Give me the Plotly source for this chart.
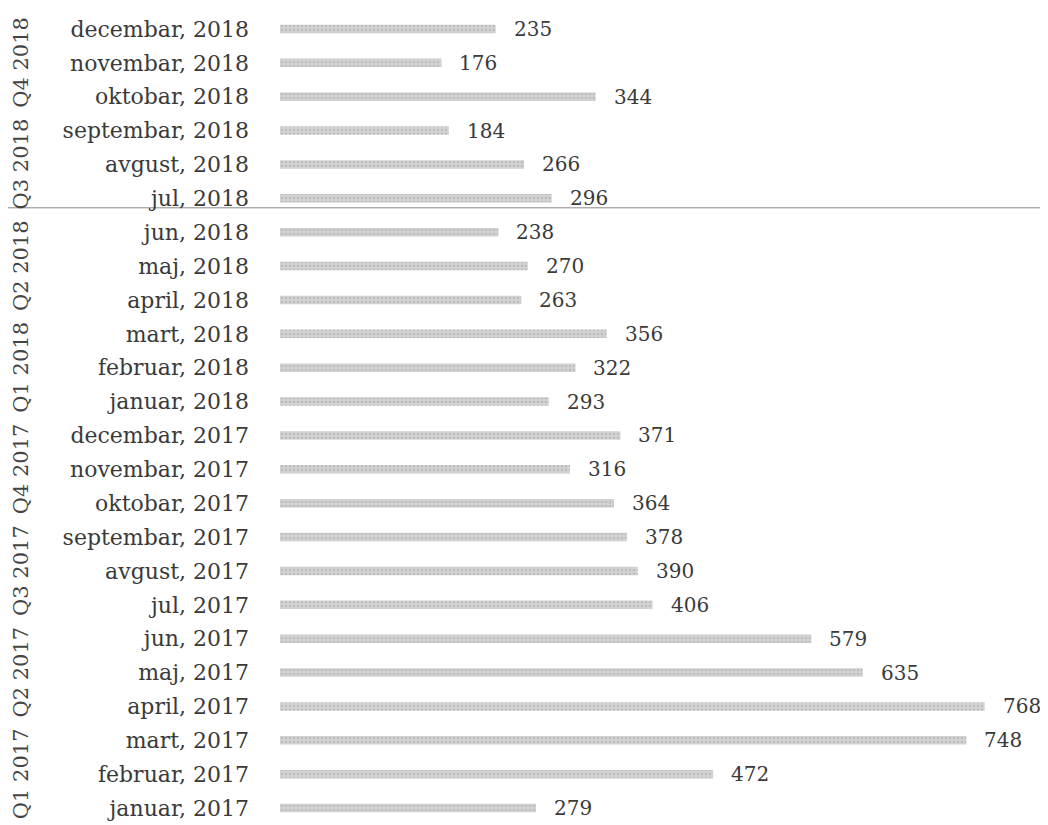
import plotly.graph_objects as go

months = ["januar, 2017", "februar, 2017", "mart, 2017", "april, 2017", "maj, 2017", "jun, 2017",
          "jul, 2017", "avgust, 2017", "septembar, 2017", "oktobar, 2017", "novembar, 2017", "decembar, 2017",
          "januar, 2018", "februar, 2018", "mart, 2018", "april, 2018", "maj, 2018", "jun, 2018",
          "jul, 2018", "avgust, 2018", "septembar, 2018", "oktobar, 2018", "novembar, 2018", "decembar, 2018"]
values = [279, 472, 748, 768, 635, 579,
          406, 390, 378, 364, 316, 371,
          293, 322, 356, 263, 270, 238,
          296, 266, 184, 344, 176, 235]
quarters = ["Q1 2017", "Q2 2017", "Q3 2017", "Q4 2017", "Q1 2018", "Q2 2018", "Q3 2018", "Q4 2018"]

FONT = "DejaVu Serif"
# page body has an 8px margin, so the figure is 8px smaller and shifted
W, H = 1040, 817
L = 272
PW = W - L

fig = go.Figure()
fig.add_trace(go.Bar(
    y=months, x=values, orientation="h",
    marker=dict(color="#c6c6c6", line=dict(width=0),
                pattern=dict(shape=".", fgcolor="#a8a8a8", bgcolor="#d2d2d2", size=4, solidity=0.35)),
    width=0.25,
))

for m, v in zip(months, values):
    fig.add_annotation(text=str(v), x=v, y=m, xref="x", yref="y", showarrow=False,
                       xanchor="left", yanchor="middle", xshift=16,
                       font=dict(family=FONT, size=20, color="#3a3a3a"))

for i, q in enumerate(quarters):
    fig.add_annotation(text=q, xref="paper", yref="y", x=(13 - L) / PW, y=i * 3 + 1,
                       textangle=-90, showarrow=False, xanchor="center", yanchor="middle",
                       borderpad=0,
                       font=dict(family=FONT, size=21, color="#444444"))

fig.add_shape(type="line", xref="paper", yref="y", x0=-L / PW, x1=1.0,
              y0=18 - 0.28, y1=18 - 0.28, line=dict(color="#8a8a8a", width=1), layer="below")

fig.update_layout(
    width=W, height=H,
    margin=dict(l=L, r=0, t=4, b=0),
    plot_bgcolor="white", paper_bgcolor="white",
    showlegend=False,
    xaxis=dict(range=[0, 837], visible=False, fixedrange=True, automargin=False),
    yaxis=dict(categoryorder="array", categoryarray=months, range=[-0.5, 23.5],
               tickfont=dict(family=FONT, size=22, color="#3a3a3a"),
               ticks="", showline=False, showgrid=False, ticklabelstandoff=30,
               automargin=False),
)

fig.write_html("out.html")
